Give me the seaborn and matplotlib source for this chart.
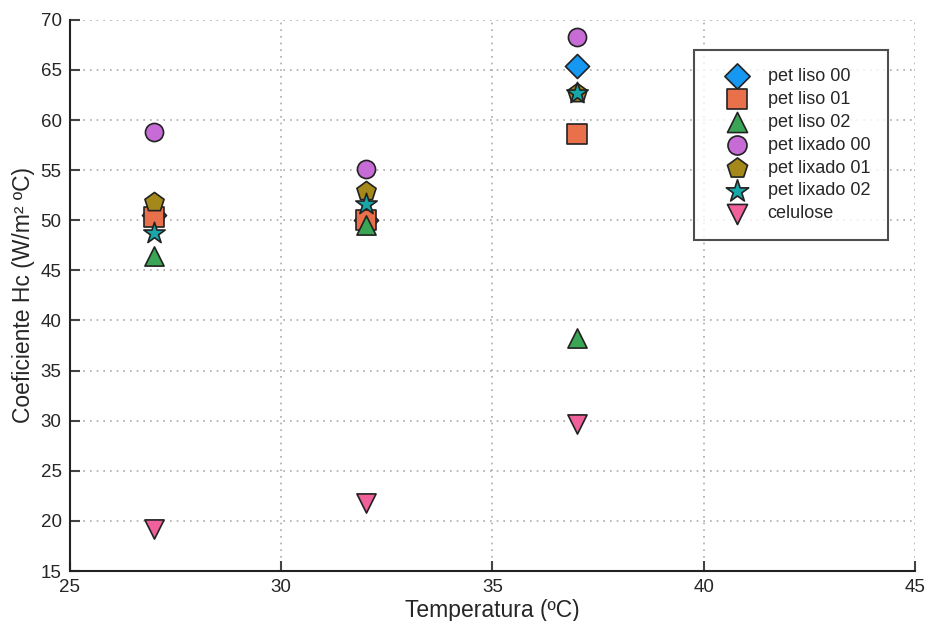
import matplotlib
matplotlib.use("Agg")
import matplotlib.pyplot as plt
import seaborn as sns
import pandas as pd

temperatures = [27, 32, 37]
series_names = ["pet liso 00", "pet liso 01", "pet liso 02", "pet lixado 00",
                "pet lixado 01", "pet lixado 02", "celulose"]
pet_liso_00 = [50.5, 50.0, 65.4]
pet_liso_01 = [50.3, 50.0, 58.6]
pet_liso_02 = [46.4, 49.5, 38.3]
pet_lixado_00 = [58.8, 55.1, 68.3]
pet_lixado_01 = [51.8, 52.9, 62.7]
pet_lixado_02 = [48.7, 51.6, 62.7]
celulose = [19.2, 21.8, 29.7]
values = [pet_liso_00, pet_liso_01, pet_liso_02, pet_lixado_00,
          pet_lixado_01, pet_lixado_02, celulose]

x_ticks = [25, 30, 35, 40, 45]
y_ticks = [15, 20, 25, 30, 35, 40, 45, 50, 55, 60, 65, 70]

colors = ["#1597f2", "#e8704a", "#3aa655", "#c76cd6", "#a5881a", "#17a7a8", "#f0609a"]
markers = ["D", "s", "^", "o", "p", "*", "v"]
sizes = [150, 200, 190, 170, 210, 260, 190]

sns.set_style("white")
plt.rcParams['font.family'] = ['Liberation Sans', 'DejaVu Sans']

fig = plt.figure(figsize=(9.28, 6.21), dpi=100)
ax = fig.add_axes([0.0754, 0.0805, 0.9106, 0.8875])

for name, vals, c, m, s in zip(series_names, values, colors, markers, sizes):
    df = pd.DataFrame({"Temperatura": temperatures, "Hc": vals})
    sns.scatterplot(data=df, x="Temperatura", y="Hc", ax=ax, color=c, marker=m,
                    s=s, edgecolor="#222222", linewidth=1.2, label=name, zorder=3)

ax.set_xlim(25, 45)
ax.set_ylim(15, 70)
ax.set_xticks(x_ticks)
ax.set_yticks(y_ticks)
ax.grid(True, linestyle=(0, (1, 3)), color="#aaaaaa", linewidth=1.2)
ax.set_axisbelow(True)
for sp in ["top", "right"]:
    ax.spines[sp].set_visible(False)
for sp in ["left", "bottom"]:
    ax.spines[sp].set_color("#222222")
    ax.spines[sp].set_linewidth(1.5)
ax.tick_params(direction="in", length=7, width=1.5, color="#444444",
               labelsize=13.5, pad=6, bottom=True, left=True)
ax.set_xlabel("Temperatura (ºC)", fontsize=16.5, labelpad=2)
ax.set_ylabel("Coeficiente Hc (W/m² ºC)", fontsize=16.5, labelpad=4)

leg = ax.legend(loc="upper left", bbox_to_anchor=(0.738, 0.946), fontsize=13,
                frameon=True, fancybox=False, borderpad=1.0, labelspacing=0.33,
                handletextpad=0.3, borderaxespad=0, markerscale=1.05,
                handlelength=2.8)
leg.get_frame().set_edgecolor("#222222")
leg.get_frame().set_linewidth(1.5)

fig.savefig("out.png", dpi=100)
